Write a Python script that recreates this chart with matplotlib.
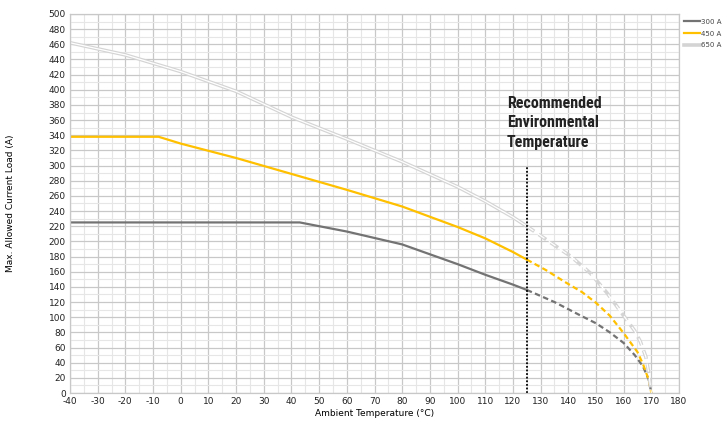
import numpy as np
import matplotlib
matplotlib.use("Agg")
import matplotlib.pyplot as plt
from matplotlib.ticker import MultipleLocator

plt.rcParams["axes.unicode_minus"] = False

# Datos (temperatura en °C, corriente en A)
t_300 = [-40, 43, 60, 80, 100, 110, 120, 125]
i_300 = [225, 225, 213, 196, 170, 156, 143, 136]
t_300_d = [125, 135, 144, 150, 155, 160, 164, 167, 169, 170]
i_300_d = [136, 120, 103, 92, 80, 66, 50, 35, 18, 0]

t_450 = [-40, -8, 0, 20, 40, 60, 80, 100, 110, 120, 125]
i_450 = [338, 338, 329, 310, 289, 268, 246, 219, 204, 186, 176]
t_450_d = [125, 132, 139, 145, 150, 155, 160, 163, 165, 167, 169, 170]
i_450_d = [176, 162, 146, 133, 119, 102, 79, 64, 54, 38, 18, 0]

t_650 = [-40, -20, 0, 20, 40, 60, 80, 100, 110, 120, 125]
i_650 = [462, 446, 424, 398, 364, 335, 305, 272, 253, 232, 220]
t_650_d = [125, 133, 141, 148, 154, 160, 164, 166, 168, 169, 170]
i_650_d = [220, 200, 180, 158, 132, 102, 82, 68, 48, 28, 0]

etiquetas = ["300 A", "450 A", "650 A"]

fig = plt.figure(figsize=(7.27, 4.23), dpi=100)
ax = fig.add_axes([0.0963, 0.0709, 0.8377, 0.8961])

ax.set_xlim(-40, 180)
ax.set_ylim(0, 500)
ax.xaxis.set_major_locator(MultipleLocator(10))
ax.xaxis.set_minor_locator(MultipleLocator(5))
ax.yaxis.set_major_locator(MultipleLocator(20))
ax.yaxis.set_minor_locator(MultipleLocator(10))
ax.grid(True, which="major", color="#c8c8c8", linewidth=0.9)
ax.grid(True, which="minor", color="#e6e6e6", linewidth=0.8)
ax.set_axisbelow(True)
ax.tick_params(which="both", length=0, labelsize=6.5, colors="#222222", pad=3)
for s in ax.spines.values():
    s.set_color("#c8c8c8")
    s.set_linewidth(0.9)

gris = "#737373"
amarillo = "#ffc000"
claro = "#d4d4d4"

ax.plot(t_300, i_300, color=gris, lw=1.6, label=etiquetas[0])
ax.plot(t_300_d, i_300_d, color=gris, lw=1.6, ls=(0, (2.5, 1.5)))

ax.plot(t_450, i_450, color=amarillo, lw=1.6, label=etiquetas[1])
ax.plot(t_450_d, i_450_d, color=amarillo, lw=1.6, ls=(0, (2.5, 1.5)))

# linea doble (contorno claro con centro blanco)
ax.plot(t_650, i_650, color=claro, lw=2.6, label=etiquetas[2])
ax.plot(t_650, i_650, color="white", lw=0.9)
ax.plot(t_650_d, i_650_d, color=claro, lw=2.6, ls=(0, (2.5, 1.5)))
ax.plot(t_650_d, i_650_d, color="white", lw=0.9, ls=(0, (6.5, 4.2)))

ax.plot([125, 125], [0, 300], color="black", lw=1.3, ls=(0, (1, 1)))
ax.text(117.8, 392, "Recommended\nEnvironmental\nTemperature", fontsize=11.5,
        fontweight="bold", family=["Roboto Condensed", "Roboto", "DejaVu Sans"],
        color="#222222", va="top", ha="left", linespacing=1.38)

ax.set_xlabel("Ambient Temperature (°C)", fontsize=6.5, labelpad=2)
ax.set_ylabel("Max. Allowed Current Load (A)", fontsize=6.5, labelpad=24)

leg = ax.legend(loc="upper left", bbox_to_anchor=(1.004, 0.995), frameon=False,
                fontsize=5, handlelength=2.2, handletextpad=0.2,
                labelspacing=0.85, borderaxespad=0)
for t in leg.get_texts():
    t.set_color("#444444")

fig.savefig("out.png", dpi=100)
